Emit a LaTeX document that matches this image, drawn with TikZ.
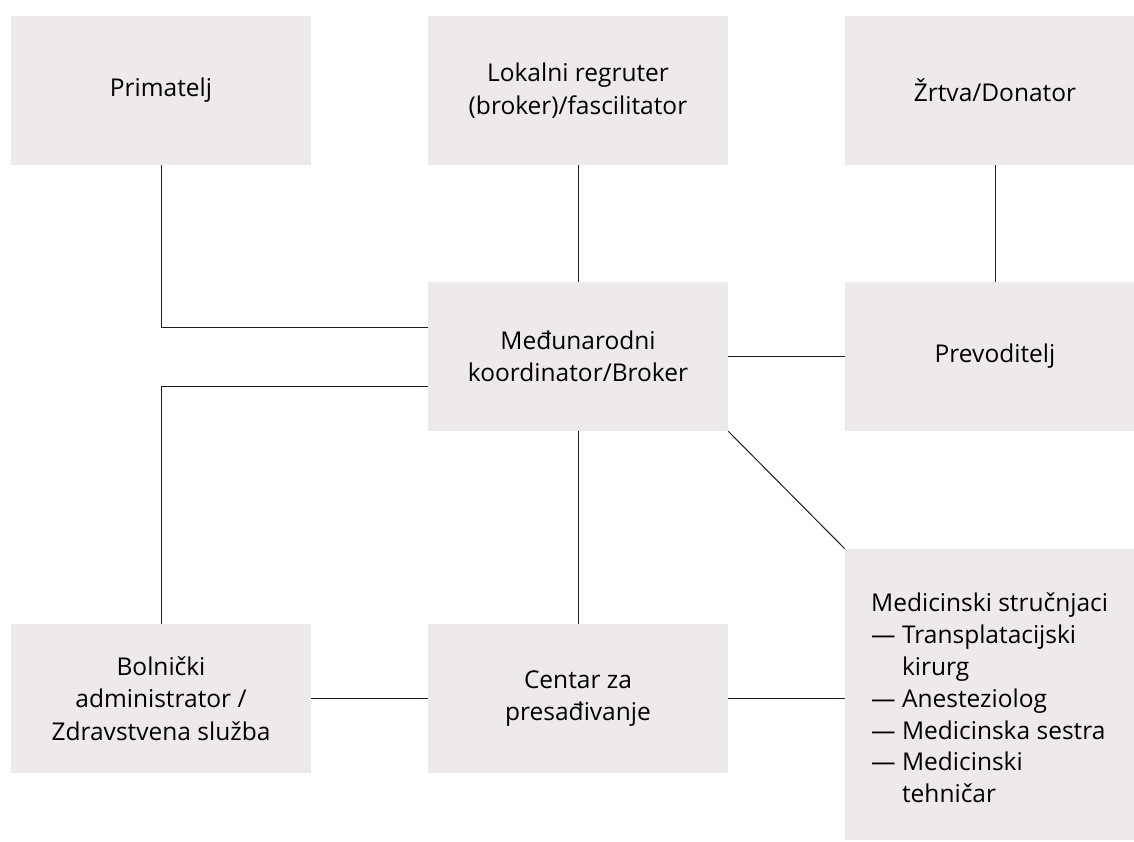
\documentclass[tikz,border=0pt]{standalone}
\usepackage{fontspec}
\setmainfont{Open Sans}
\definecolor{boxfill}{RGB}{237,233,237}
\definecolor{linec}{RGB}{30,30,30}
\tikzset{
  box/.style={fill=boxfill, draw=none, minimum width=300pt, minimum height=149pt,
    inner sep=0pt, align=center, font=\fontsize{24.5}{32.5}\selectfont, text=black},
  conn/.style={draw=linec, line width=1pt},
}
\begin{document}
\begin{tikzpicture}[x=1pt,y=-1pt]
\useasboundingbox (0,0) rectangle (1134,841);
\clip (0,0) rectangle (1134,841);
\fill[white] (0,0) rectangle (1134,841);
\node[box] (prim) at (161,90.5) {Primatelj};
\node[box] (lok) at (578,90.5) {Lokalni regruter\\(broker)/fascilitator};
\node[box] (zrt) at (995,90.5) {Žrtva/Donator};
\node[box] (med) at (578,356.5) {Međunarodni\\koordinator/Broker};
\node[box] (prev) at (995,356.5) {Prevoditelj};
\node[box] (bol) at (161,698.5) {Bolnički\\administrator /\\Zdravstvena služba};
\node[box] (cen) at (578,698.5) {Centar za\\presađivanje};
\node[box, minimum height=291pt] (medic) at (995,694.5) {};
\node[anchor=north west, inner sep=0pt, align=left, font=\fontsize{24.5}{31.8}\selectfont] (medtxt) at (871,593)
  {Medicinski stručnjaci\\
   — Transplatacijski\\
   \hphantom{— }kirurg\\
   — Anesteziolog\\
   — Medicinska sestra\\
   — Medicinski\\
   \hphantom{— }tehničar};
\draw[conn] (prim.south) |- ([yshift=29.5pt]med.west);
\draw[conn] (bol.north) |- ([yshift=-29.5pt]med.west);
\draw[conn] (lok.south) -- (med.north);
\draw[conn] (zrt.south) -- (prev.north);
\draw[conn] (med.east) -- (prev.west);
\draw[conn] (med.south) -- (cen.north);
\draw[conn] (med.south east) -- (medic.north west);
\draw[conn] (bol.east) -- (cen.west);
\draw[conn] (cen.east) -- (cen.east -| medic.west);
\end{tikzpicture}
\end{document}
